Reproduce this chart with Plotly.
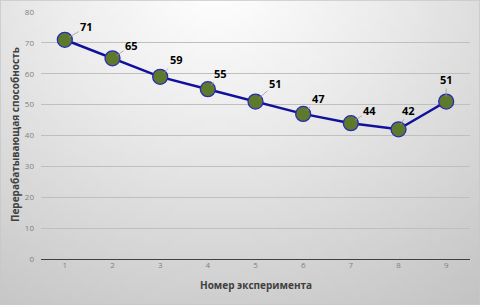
import numpy as np
import plotly.graph_objects as go

experiments = [1, 2, 3, 4, 5, 6, 7, 8, 9]
capacity = [71, 65, 59, 55, 51, 47, 44, 42, 51]
y_ticks = [0, 10, 20, 30, 40, 50, 60, 70, 80]
x_title = "Номер эксперимента"
y_title = "Перерабатывающая способность"

# label offsets in pixels (placement style)
label_dx = [22, 19, 16, 13, 20, 15, 19, 10, 0]
label_dy = [-13, -13, -17, -16, -18, -15, -13, -19, -22]

W, H = 480, 305
fig = go.Figure()

# background gradient (decorative)
gx = np.linspace(0, 1, 80)
gy = np.linspace(0, 1, 60)
GX, GY = np.meshgrid(gx, gy)
d = np.sqrt(((GX - 0.45) * 1.0) ** 2 + ((GY - 1.05) * 0.75) ** 2)
fig.add_trace(go.Heatmap(x=gx, y=gy, z=d, colorscale=[[0, "#ffffff"], [0.35, "#ececec"], [1, "#c2c2c2"]],
                         zmin=0, zmax=d.max(), showscale=False, hoverinfo="skip",
                         xaxis="x", yaxis="y"))

fig.add_trace(go.Scatter(
    x=experiments, y=capacity, mode="lines+markers",
    line=dict(color="#10109a", width=2.5),
    marker=dict(size=15, color="#5d7a2c", line=dict(color="#2a2ab4", width=1.3)),
    xaxis="x2", yaxis="y2", hoverinfo="skip"))

for i, (xv, yv) in enumerate(zip(experiments, capacity)):
    fig.add_annotation(x=xv, y=yv, xref="x2", yref="y2", text="<b>%d</b>" % yv,
                       showarrow=True, arrowhead=0, arrowwidth=0.8, arrowcolor="#9a9a9a",
                       ax=label_dx[i], ay=label_dy[i], standoff=5,
                       font=dict(family="Open Sans", size=11, color="#000000"))

# axis titles
fig.add_annotation(x=255.5 / W, y=1 - 285 / H, xref="paper", yref="paper", showarrow=False,
                   text="<b>%s</b>" % x_title, xanchor="center", yanchor="middle",
                   font=dict(family="Open Sans", size=10, color="#404040"))
fig.add_annotation(x=15 / W, y=1 - 135 / H, xref="paper", yref="paper", showarrow=False,
                   text="<b>%s</b>" % y_title, textangle=-90, xanchor="center", yanchor="middle",
                   font=dict(family="Open Sans", size=10, color="#404040"))

fig.update_layout(
    width=W, height=H, autosize=False,
    margin=dict(l=0, r=0, t=0, b=0, pad=0, autoexpand=False),
    paper_bgcolor="#d9d9d9", plot_bgcolor="rgba(0,0,0,0)",
    showlegend=False,
    xaxis=dict(domain=[0, 1], range=[0, 1], visible=False, fixedrange=True, automargin=False),
    yaxis=dict(domain=[0, 1], range=[0, 1], visible=False, fixedrange=True, automargin=False),
    xaxis2=dict(domain=[41 / W, 470 / W], range=[0.5, 9.5], anchor="y2", automargin=False,
                tickvals=experiments, ticktext=[str(v) for v in experiments],
                showgrid=False, zeroline=False, showline=False, ticks="",
                tickfont=dict(family="Open Sans", size=8, color="#7f7f7f")),
    yaxis2=dict(domain=[46 / H, 293 / H], range=[0, 80], anchor="x2", automargin=False,
                tickvals=y_ticks, showgrid=True, gridcolor="#bfbfbf", gridwidth=1,
                zeroline=True, zerolinecolor="#404040", zerolinewidth=1.3,
                showline=False, ticks="", ticklabelstandoff=6,
                tickfont=dict(family="Open Sans", size=8, color="#7f7f7f")),
    shapes=[dict(type="rect", xref="paper", yref="paper", x0=0, y0=0, x1=1, y1=1,
                 line=dict(color="#c8c8c8", width=1.5), fillcolor="rgba(0,0,0,0)")],
)

fig.write_html("out.html", config={"displayModeBar": False},
               post_script="document.body.style.margin='0px';")
